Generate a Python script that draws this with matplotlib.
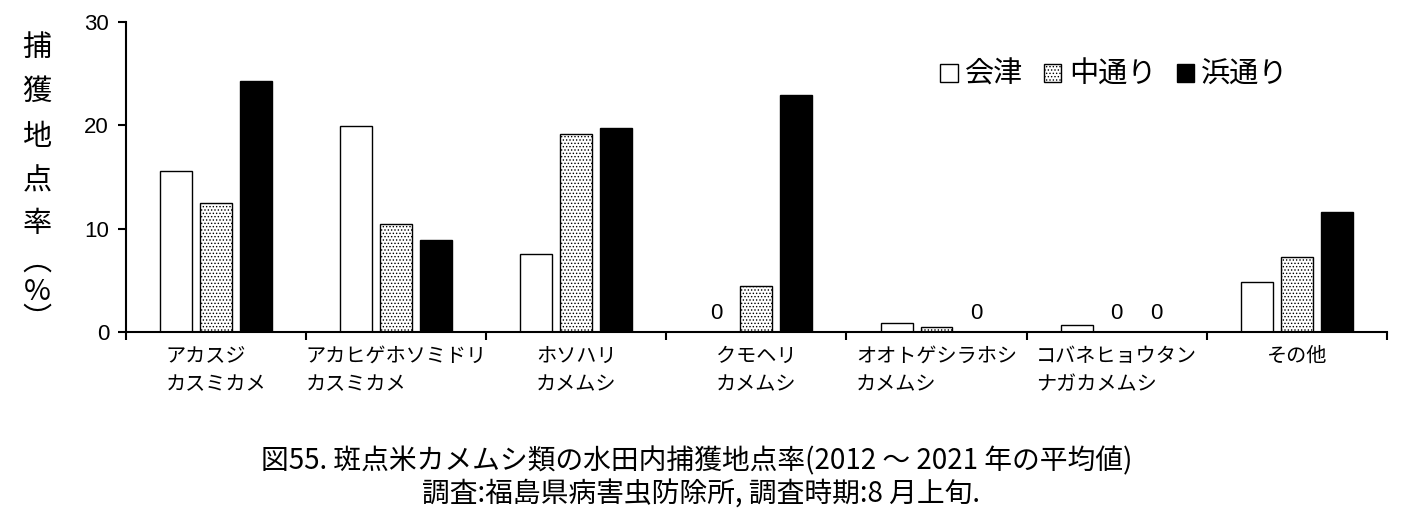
import matplotlib
matplotlib.use("Agg")
import matplotlib.pyplot as plt
from matplotlib.patches import Patch

plt.rcParams['font.family'] = ['Noto Sans CJK JP', 'DejaVu Sans']
plt.rcParams['hatch.linewidth'] = 0.6

# data
categories = ['アカスジ\nカスミカメ', 'アカヒゲホソミドリ\nカスミカメ', 'ホソハリ\nカメムシ',
              'クモヘリ\nカメムシ', 'オオトゲシラホシ\nカメムシ', 'コバネヒョウタン\nナガカメムシ',
              'その他']
series_names = ['会津', '中通り', '浜通り']
aizu = [15.6, 19.9, 7.5, 0.0, 0.85, 0.7, 4.8]
nakadori = [12.5, 10.4, 19.1, 4.45, 0.5, 0.0, 7.3]
hamadori = [24.3, 8.9, 19.7, 22.9, 0.0, 0.0, 11.6]
yticks = [0, 10, 20, 30]

num_font = ['Liberation Sans', 'DejaVu Sans']

fig = plt.figure(figsize=(14.06, 5.27), dpi=100)
ax = fig.add_axes([0.0894, 0.370, 0.8971, 0.5888])

styles = [dict(facecolor='white', hatch=None),
          dict(facecolor='white', hatch='.....'),
          dict(facecolor='black', hatch=None)]
offsets = [-0.2216, 0.0, 0.2216]
width = 0.177

handles = []
for vals, off, st, name in zip([aizu, nakadori, hamadori], offsets, styles, series_names):
    xs = [i + 0.5 + off for i in range(len(categories))]
    ax.bar(xs, vals, width=width, facecolor=st['facecolor'], edgecolor='black',
           linewidth=1.0, hatch=st['hatch'], zorder=2)
    handles.append(Patch(facecolor=st['facecolor'], edgecolor='black', hatch=st['hatch'],
                         linewidth=1.0, label=name))
    # zero values get a "0" label
    for x, v in zip(xs, vals):
        if v == 0:
            ax.text(x, 1.75, '0', ha='center', va='center', fontsize=16, family=num_font)

ax.set_xlim(0, len(categories))
ax.set_ylim(0, 30)
ax.set_yticks(yticks)
ax.set_yticklabels([str(t) for t in yticks], family=num_font, fontsize=16)
ax.set_xticks(range(len(categories) + 1))
ax.set_xticklabels([])
ax.set_xticks([i + 0.5 for i in range(len(categories))], minor=True)
ax.set_xticklabels(categories, minor=True, fontsize=14.5, ha='center', multialignment='left',
                   linespacing=1.45)
ax.tick_params(axis='x', which='minor', length=0, pad=10)
ax.tick_params(axis='x', which='major', length=6, width=1.5, direction='out')
ax.tick_params(axis='y', length=6, width=1.5, direction='out', pad=6)

for s in ['top', 'right']:
    ax.spines[s].set_visible(False)
for s in ['left', 'bottom']:
    ax.spines[s].set_linewidth(1.5)

ax.legend(handles=handles, loc='center', bbox_to_anchor=(0.784, 0.828), ncol=3,
          frameon=False, fontsize=21, handlelength=0.6, handleheight=0.6,
          handletextpad=0.25, columnspacing=0.7)

# vertical y label, one glyph at a time
ylabel_chars = ['捕', '獲', '地', '点', '率', '︵', '%', '︶']
ylabel_y = [48, 92, 137, 181, 224, 262, 292, 320]
for ch, yy in zip(ylabel_chars, ylabel_y):
    fig.text(37 / 1406, 1 - yy / 527, ch, ha='center', va='center', fontsize=21)

fig.text(697 / 1406, 1 - 461 / 527, '図55. 斑点米カメムシ類の水田内捕獲地点率(2012 ～ 2021 年の平均値)',
         ha='center', va='center', fontsize=20)
fig.text(701 / 1406, 1 - 495 / 527, '調査:福島県病害虫防除所, 調査時期:8 月上旬.',
         ha='center', va='center', fontsize=20)

fig.savefig('out.png', dpi=100)
